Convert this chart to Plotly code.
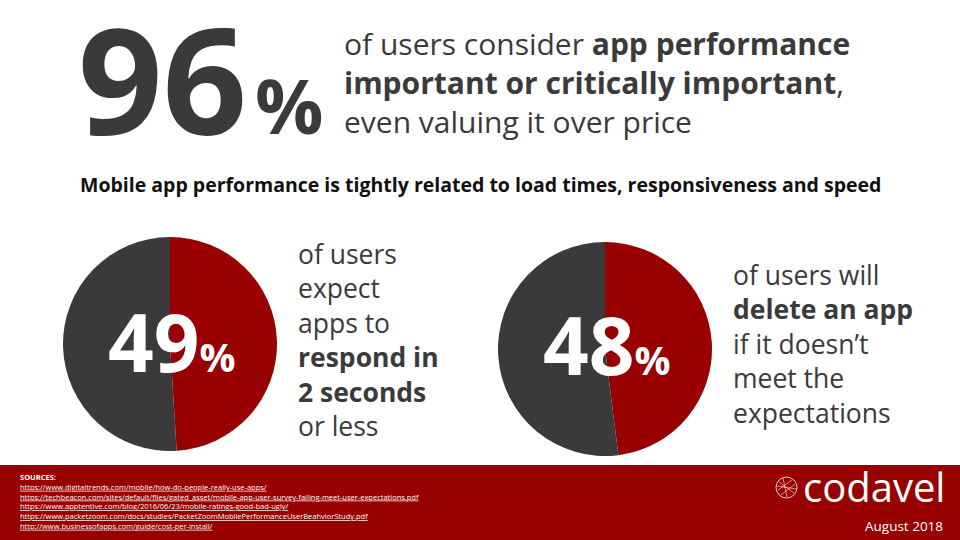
import plotly.graph_objects as go

W, H = 960, 540
RED = "#990000"
DARK = "#3a3a3a"
FONT = "Open Sans"

# data
pie_labels = ["Yes", "No"]
respond_share = [49, 51]
delete_share = [48, 52]
headline_share = 96

sources = [
    "https://www.digitaltrends.com/mobile/how-do-people-really-use-apps/",
    "https://techbeacon.com/sites/default/files/gated_asset/mobile-app-user-survey-failing-meet-user-expectations.pdf",
    "https://www.apptentive.com/blog/2016/06/23/mobile-ratings-good-bad-ugly/",
    "https://www.packetzoom.com/docs/studies/PacketZoomMobilePerformanceUserBeahviorStudy.pdf",
    "http://www.businessofapps.com/guide/cost-per-install/",
]


def px(x):
    return x / W


def py(y):
    return 1 - y / H


fig = go.Figure()

fig.add_trace(go.Pie(
    labels=pie_labels, values=respond_share, sort=False, direction="clockwise",
    rotation=0, marker=dict(colors=[RED, DARK], line=dict(width=0)),
    textinfo="none", hoverinfo="label+percent", showlegend=False,
    domain=dict(x=[px(63), px(277)], y=[py(451), py(237)]),
))
fig.add_trace(go.Pie(
    labels=pie_labels, values=delete_share, sort=False, direction="clockwise",
    rotation=0, marker=dict(colors=[RED, DARK], line=dict(width=0)),
    textinfo="none", hoverinfo="label+percent", showlegend=False,
    domain=dict(x=[px(498), px(712)], y=[py(456), py(242)]),
))

notes = []


def note(text, x, y, size, color=DARK, xanchor="left", yanchor="middle", align="left", **kw):
    notes.append(dict(
        text=text, x=px(x), y=py(y), xref="paper", yref="paper",
        xanchor=xanchor, yanchor=yanchor, align=align, showarrow=False,
        font=dict(family=FONT, size=size, color=color), **kw,
    ))


# headline
note(f"<b>{headline_share}</b>", 76, 77, 148, height=140)
note("<b>%</b>", 253, 104, 76)
note("of users consider <b>app performance</b><br>"
     "<b>important or critically important</b>,<br>"
     "even valuing it over price", 342, 82, 30)

note("<b>Mobile app performance is tightly related to load times, responsiveness and speed</b>",
     480, 185, 19.5, color="#111111", xanchor="center", align="center")

# pie labels
pct = "<span style='font-size:40px'>%</span>"
note(f"<b>{respond_share[0]}{pct}</b>", 172, 340, 80, color="white", xanchor="center")
note(f"<b>{delete_share[0]}{pct}</b>", 607, 343, 80, color="white", xanchor="center")

note("of users<br>expect<br>apps to<br><b>respond in</b><br><b>2 seconds</b><br>or less",
     296, 340, 26.5)
note("of users will<br><b>delete an app</b><br>if it doesn\u2019t<br>meet the<br>expectations",
     731, 344, 26.5)

# footer
note("<b>SOURCES:</b><br>" + "<br>".join(f"<u>{s}</u>" for s in sources),
     18, 470, 7.5, color="white", yanchor="top")
note("codavel", 947, 486, 40, color="white", xanchor="right")
note("August 2018", 945, 526, 13.5, color="white", xanchor="right")

shapes = [
    dict(type="rect", xref="paper", yref="paper", x0=0, x1=1, y0=0, y1=py(465),
         fillcolor=RED, line=dict(width=0), layer="below"),
    dict(type="circle", xref="paper", yref="paper",
         x0=px(776), x1=px(797), y0=py(498), y1=py(477),
         line=dict(color="rgba(255,255,255,0.8)", width=1)),
]
# globe mesh on the logo
for a, b in [((779, 482), (794, 493)), ((778, 490), (792, 480)), ((783, 478), (787, 497)),
             ((777, 486), (796, 489)), ((781, 495), (795, 484))]:
    shapes.append(dict(type="line", xref="paper", yref="paper",
                       x0=px(a[0]), y0=py(a[1]), x1=px(b[0]), y1=py(b[1]),
                       line=dict(color="rgba(255,255,255,0.7)", width=0.8)))

fig.update_layout(
    width=W, height=H,
    margin=dict(l=0, r=0, t=0, b=0),
    paper_bgcolor="white", plot_bgcolor="white",
    annotations=notes, shapes=shapes,
    xaxis=dict(visible=False), yaxis=dict(visible=False),
)

fig.write_html("out.html", config={"displayModeBar": False},
               post_script="document.body.style.margin='0';")
